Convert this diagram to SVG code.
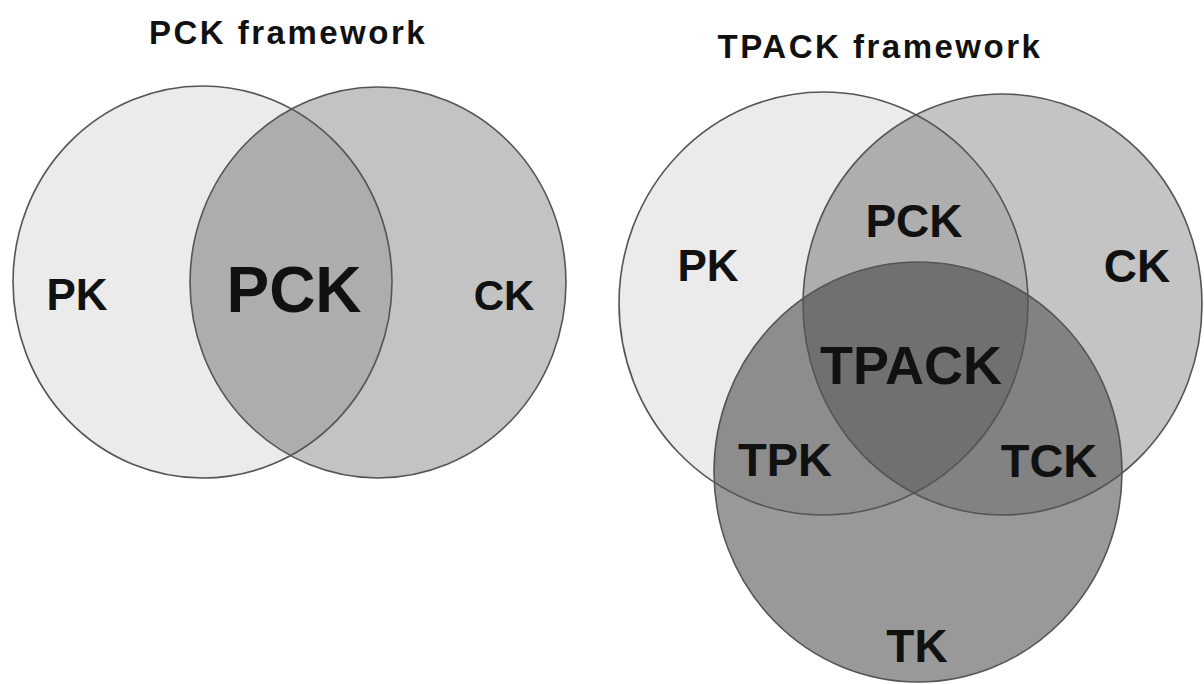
<svg xmlns="http://www.w3.org/2000/svg" width="1204" height="684" viewBox="0 0 1204 684">
<style>
.t{font-family:"Liberation Sans",Arial,sans-serif;font-weight:bold;fill:#111;text-anchor:middle}
.ttl{font-size:33px;letter-spacing:2.5px}
.ol{fill:none;stroke:#555;stroke-width:1.6}
</style>
<defs>
<clipPath id="lPK"><ellipse cx="202.5" cy="282" rx="189.5" ry="196"/></clipPath>
<clipPath id="rPK"><ellipse cx="823.5" cy="303.5" rx="204.5" ry="211.5"/></clipPath>
<clipPath id="rCK"><ellipse cx="1002.5" cy="304.5" rx="199.5" ry="210.5"/></clipPath>
</defs>
<rect width="1204" height="684" fill="#fff"/>

<g id="pck-framework">
<text class="t ttl" x="288" y="44">PCK framework</text>
<g id="left-PK">
<ellipse cx="202.5" cy="282" rx="189.5" ry="196" fill="#ebebeb"/>
</g>
<g id="left-CK">
<ellipse cx="378" cy="282.5" rx="188" ry="195.5" fill="#c3c3c3"/>
</g>
<g id="left-PCK">
<ellipse cx="378" cy="282.5" rx="188" ry="195.5" fill="#adadad" clip-path="url(#lPK)"/>
</g>
<g id="left-outlines">
<ellipse class="ol" cx="202.5" cy="282" rx="189.5" ry="196"/>
<ellipse class="ol" cx="378" cy="282.5" rx="188" ry="195.5"/>
</g>
<text class="t" x="77" y="310" font-size="44">PK</text>
<text class="t" x="294" y="312" font-size="64">PCK</text>
<text class="t" x="504" y="310" font-size="42">CK</text>
</g>

<g id="tpack-framework">
<text class="t ttl" x="880" y="58">TPACK framework</text>
<g id="right-PK"><ellipse cx="823.5" cy="303.5" rx="204.5" ry="211.5" fill="#ebebeb"/></g>
<g id="right-CK"><ellipse cx="1002.5" cy="304.5" rx="199.5" ry="210.5" fill="#c4c4c4"/></g>
<g id="right-PCK"><ellipse cx="1002.5" cy="304.5" rx="199.5" ry="210.5" fill="#aeaeae" clip-path="url(#rPK)"/></g>
<g id="right-TK"><ellipse cx="918" cy="472" rx="204" ry="210" fill="#999999"/></g>
<g id="right-TPK"><ellipse cx="918" cy="472" rx="204" ry="210" fill="#8d8d8d" clip-path="url(#rPK)"/></g>
<g id="right-TCK"><ellipse cx="918" cy="472" rx="204" ry="210" fill="#828282" clip-path="url(#rCK)"/></g>
<g id="right-TPACK"><g clip-path="url(#rPK)"><ellipse cx="918" cy="472" rx="204" ry="210" fill="#707070" clip-path="url(#rCK)"/></g></g>
<g id="right-outlines">
<ellipse class="ol" cx="823.5" cy="303.5" rx="204.5" ry="211.5"/>
<ellipse class="ol" cx="1002.5" cy="304.5" rx="199.5" ry="210.5"/>
<ellipse class="ol" cx="918" cy="472" rx="204" ry="210"/>
</g>
<text class="t" x="708" y="281" font-size="44">PK</text>
<text class="t" x="914" y="237" font-size="46">PCK</text>
<text class="t" x="1137" y="282" font-size="46">CK</text>
<text class="t" x="911" y="384" font-size="54">TPACK</text>
<text class="t" x="785" y="476" font-size="47">TPK</text>
<text class="t" x="1049" y="477" font-size="47">TCK</text>
<text class="t" x="917" y="662" font-size="46">TK</text>
</g>
</svg>
